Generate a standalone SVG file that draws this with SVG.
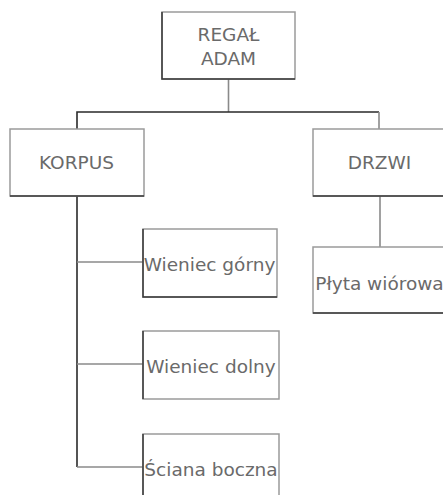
<svg xmlns="http://www.w3.org/2000/svg" width="443" height="495" viewBox="0 0 443 495">
  <style>
    .box { fill: #ffffff; stroke: #9a9a9a; stroke-width: 1.5; }
    .shade { fill: none; stroke: #3a3a3a; stroke-width: 1.5; }
    .label { font-family: "DejaVu Sans", Verdana, sans-serif; font-size: 18.5px; fill: #6a6a6a; text-anchor: middle; }
    .dark { fill: none; stroke: #2a2a2a; stroke-width: 1.6; }
    .light { fill: none; stroke: #8a8a8a; stroke-width: 1.6; }
  </style>
  <rect width="443" height="495" fill="#ffffff"/>

  <g id="connectors">
    <path class="light" d="M228.5 79 V112"/>
    <path class="dark" d="M77 129 V112 H379"/>
    <path class="light" d="M379 112 V129"/>
    <path class="dark" d="M77 196 V467"/>
    <path class="light" d="M77 262 H143 M77 364 H143 M77 467 H143"/>
    <path class="light" d="M380 196 V247"/>
  </g>

  <g id="regal-adam">
    <rect class="box" x="162" y="12" width="133" height="67"/>
    <path class="shade" d="M162 12 V79 H295"/>
    <text class="label" x="228.5" y="41">REGAŁ</text>
    <text class="label" x="228.5" y="65">ADAM</text>
  </g>

  <g id="korpus">
    <rect class="box" x="10" y="129" width="134" height="67"/>
    <path class="shade" d="M10 196 H144"/>
    <text class="label" x="76.5" y="169">KORPUS</text>
  </g>

  <g id="drzwi">
    <rect class="box" x="313" y="129" width="134" height="67"/>
    <path class="shade" d="M313 196 H447"/>
    <text class="label" x="379.5" y="169">DRZWI</text>
  </g>

  <g id="wieniec-gorny">
    <rect class="box" x="143" y="229" width="134" height="68"/>
    <path class="shade" d="M143 229 V297 H277"/>
    <text class="label" x="209.5" y="271">Wieniec górny</text>
  </g>

  <g id="wieniec-dolny">
    <rect class="box" x="143" y="331" width="136" height="68"/>
    <path class="shade" d="M143 331 V399"/>
    <text class="label" x="211" y="373">Wieniec dolny</text>
  </g>

  <g id="sciana-boczna">
    <rect class="box" x="143" y="434" width="136" height="68"/>
    <path class="shade" d="M143 434 V502"/>
    <text class="label" x="211" y="476">Ściana boczna</text>
  </g>

  <g id="plyta-wiorowa">
    <rect class="box" x="313" y="247" width="134" height="66"/>
    <path class="shade" d="M313 313 H447"/>
    <text class="label" x="379.5" y="290">Płyta wiórowa</text>
  </g>
</svg>
